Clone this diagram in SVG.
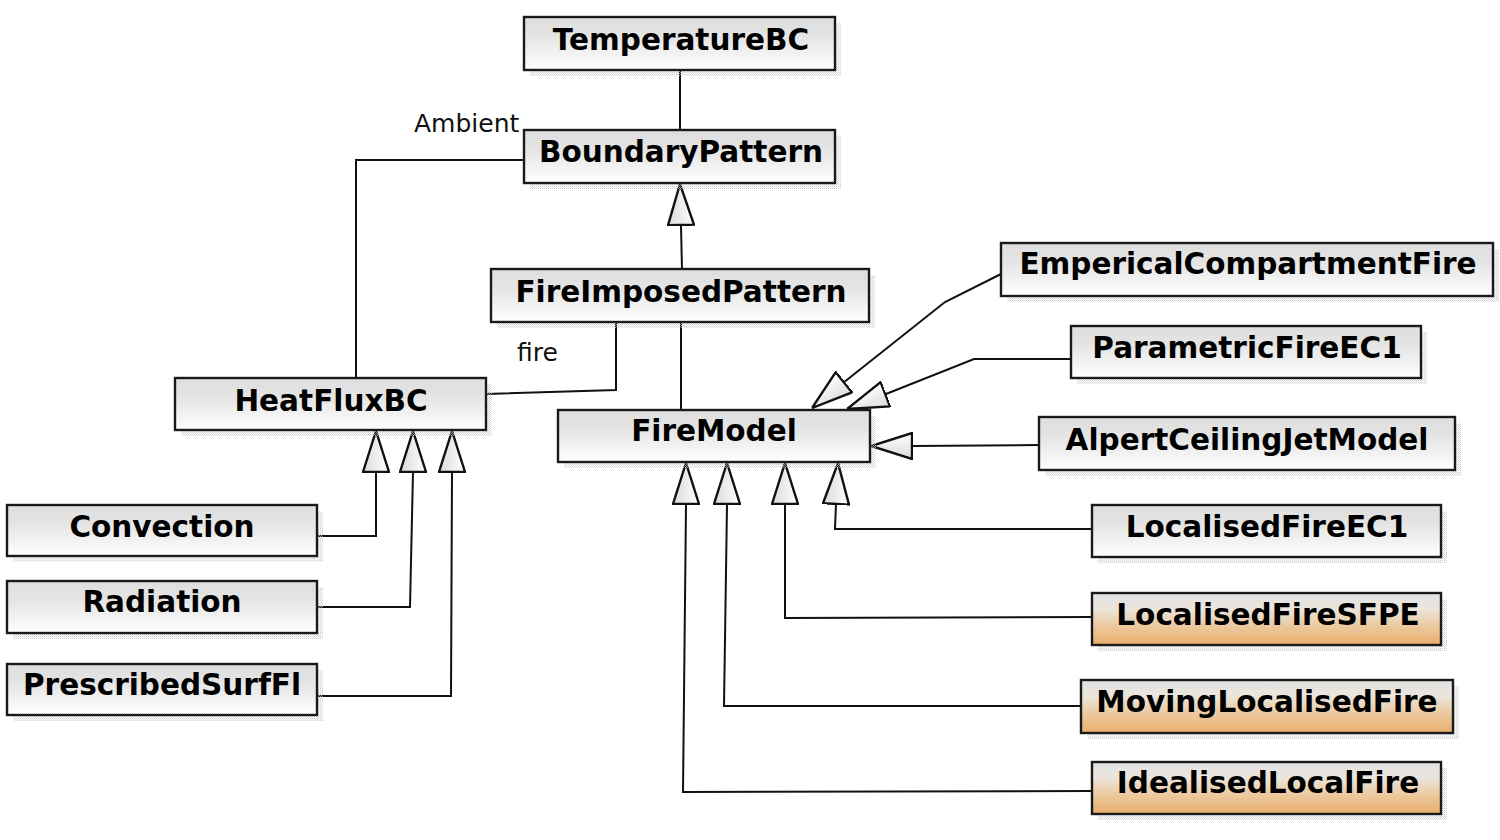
<svg xmlns="http://www.w3.org/2000/svg" width="1500" height="840" viewBox="0 0 1500 840">
<defs>
<linearGradient id="g" x1="0" y1="0" x2="0" y2="1">
<stop offset="0" stop-color="#dedede"/>
<stop offset="0.35" stop-color="#e4e4e4"/>
<stop offset="0.6" stop-color="#eeeeee"/>
<stop offset="1" stop-color="#ffffff"/>
</linearGradient>
<linearGradient id="o" x1="0" y1="0" x2="0" y2="1">
<stop offset="0" stop-color="#e2e2e2"/>
<stop offset="0.3" stop-color="#ebe5dc"/>
<stop offset="0.65" stop-color="#ecc89c"/>
<stop offset="1" stop-color="#e8ad6a"/>
</linearGradient>
<linearGradient id="t" x1="0" y1="0" x2="0" y2="1">
<stop offset="0" stop-color="#dadada"/>
<stop offset="1" stop-color="#ffffff"/>
</linearGradient>
<pattern id="dots" width="2" height="2" patternUnits="userSpaceOnUse">
<rect width="1" height="1" fill="#b8b8b8"/>
<rect x="1" y="1" width="1" height="1" fill="#d8d8d8"/>
</pattern>
<marker id="gen" viewBox="0 0 42 28" refX="42" refY="14" markerWidth="42" markerHeight="28" markerUnits="userSpaceOnUse" orient="auto">
<path d="M1,1 L42,14 L1,27 Z" fill="url(#t)" stroke="#111" stroke-width="2.4" stroke-linejoin="miter"/>
</marker>
<style>
.sh{fill:url(#dots);opacity:0.7}
.bx{fill:url(#g);stroke:#1a1a1a;stroke-width:2.4}
.bo{fill:url(#o);stroke:#1a1a1a;stroke-width:2.4}
.nm{font-family:"DejaVu Sans",Verdana,sans-serif;font-weight:bold;font-size:29.5px;fill:#000;text-anchor:middle}
.lb{font-family:"DejaVu Sans",Verdana,sans-serif;font-size:25px;fill:#111}
.c{fill:none;stroke:#111;stroke-width:2}
.cg{fill:none;stroke:#111;stroke-width:2;marker-end:url(#gen)}
</style>
</defs>
<rect width="1500" height="840" fill="#fff"/>

<g id="connectors">
<path class="c" d="M680,70 L680,130"/>
<path class="c" d="M524,160 L356,160 L356,378"/>
<path class="cg" d="M682,269 L681,226 L680,184"/>
<path class="c" d="M616,322 L616,390 L486,394"/>
<path class="c" d="M681,322 L681,410"/>
<path class="cg" d="M317,536 L376,536 L376,472 L376,431"/>
<path class="cg" d="M317,607 L410,607 L413,472 L413,431"/>
<path class="cg" d="M317,696 L451,696 L452,472 L452,431"/>
<path class="cg" d="M1092,791 L683,792 L686,505 L686,463"/>
<path class="cg" d="M1081,706 L724,706 L727,505 L727,463"/>
<path class="cg" d="M1092,617 L785,618 L785,505 L785,463"/>
<path class="cg" d="M1092,529 L835,529 L836,504 L838,463"/>
<path class="cg" d="M1039,445 L912,446 L871,446"/>
<path class="cg" d="M1071,359 L974,359 L886,394 L847,409"/>
<path class="cg" d="M1001,274 L945,302 L843,383 L812,408"/>
</g>

<g id="labels">
<text class="lb" x="414" y="132">Ambient</text>
<text class="lb" x="517" y="361">fire</text>
</g>

<g id="TemperatureBC"><rect class="sh" x="530" y="23" width="311" height="53"/><rect class="bx" x="524" y="17" width="311" height="53"/><text class="nm" x="681" y="50">TemperatureBC</text></g>
<g id="BoundaryPattern"><rect class="sh" x="530" y="136" width="311" height="53"/><rect class="bx" x="524" y="130" width="311" height="53"/><text class="nm" x="681" y="162">BoundaryPattern</text></g>
<g id="FireImposedPattern"><rect class="sh" x="497" y="275" width="378" height="53"/><rect class="bx" x="491" y="269" width="378" height="53"/><text class="nm" x="681" y="302">FireImposedPattern</text></g>
<g id="HeatFluxBC"><rect class="sh" x="181" y="384" width="311" height="52"/><rect class="bx" x="175" y="378" width="311" height="52"/><text class="nm" x="331" y="411">HeatFluxBC</text></g>
<g id="FireModel"><rect class="sh" x="564" y="416" width="312" height="52"/><rect class="bx" x="558" y="410" width="312" height="52"/><text class="nm" x="714" y="441">FireModel</text></g>
<g id="Convection"><rect class="sh" x="13" y="511" width="310" height="51"/><rect class="bx" x="7" y="505" width="310" height="51"/><text class="nm" x="162" y="537">Convection</text></g>
<g id="Radiation"><rect class="sh" x="13" y="587" width="310" height="52"/><rect class="bx" x="7" y="581" width="310" height="52"/><text class="nm" x="162" y="612">Radiation</text></g>
<g id="PrescribedSurfFl"><rect class="sh" x="13" y="670" width="310" height="51"/><rect class="bx" x="7" y="664" width="310" height="51"/><text class="nm" x="162" y="695">PrescribedSurfFl</text></g>
<g id="EmpericalCompartmentFire"><rect class="sh" x="1007" y="249" width="492" height="53"/><rect class="bx" x="1001" y="243" width="492" height="53"/><text class="nm" x="1248" y="274">EmpericalCompartmentFire</text></g>
<g id="ParametricFireEC1"><rect class="sh" x="1077" y="332" width="350" height="52"/><rect class="bx" x="1071" y="326" width="350" height="52"/><text class="nm" x="1247" y="358">ParametricFireEC1</text></g>
<g id="AlpertCeilingJetModel"><rect class="sh" x="1045" y="423" width="416" height="53"/><rect class="bx" x="1039" y="417" width="416" height="53"/><text class="nm" x="1247" y="450">AlpertCeilingJetModel</text></g>
<g id="LocalisedFireEC1"><rect class="sh" x="1098" y="511" width="349" height="52"/><rect class="bx" x="1092" y="505" width="349" height="52"/><text class="nm" x="1267" y="537">LocalisedFireEC1</text></g>
<g id="LocalisedFireSFPE"><rect class="sh" x="1098" y="599" width="349" height="52"/><rect class="bo" x="1092" y="593" width="349" height="52"/><text class="nm" x="1268" y="625">LocalisedFireSFPE</text></g>
<g id="MovingLocalisedFire"><rect class="sh" x="1087" y="686" width="372" height="53"/><rect class="bo" x="1081" y="680" width="372" height="53"/><text class="nm" x="1267" y="712">MovingLocalisedFire</text></g>
<g id="IdealisedLocalFire"><rect class="sh" x="1098" y="768" width="349" height="52"/><rect class="bo" x="1092" y="762" width="349" height="52"/><text class="nm" x="1268" y="793">IdealisedLocalFire</text></g>
</svg>
